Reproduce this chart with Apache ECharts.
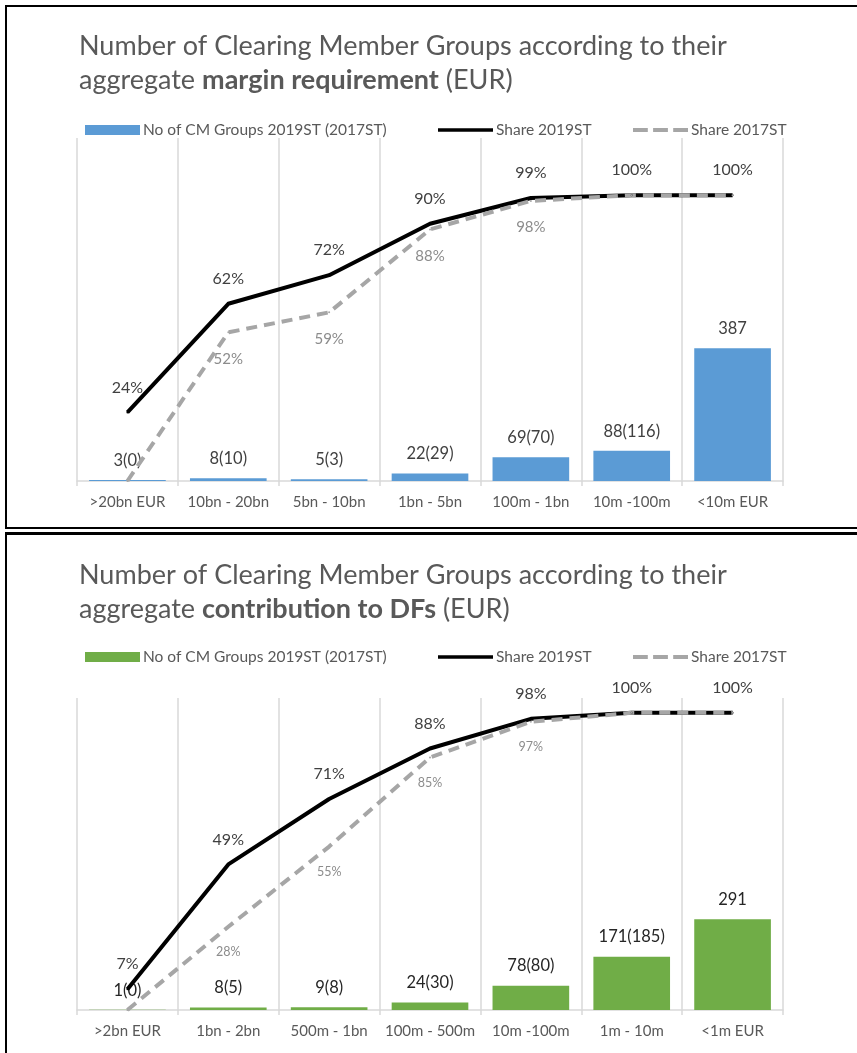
<!DOCTYPE html>
<html>
<head>
<meta charset="utf-8">
<script src="https://cdn.jsdelivr.net/npm/echarts@6/dist/echarts.min.js"></script>
<style>
  html, body { margin: 0; padding: 0; background: #fff; }
  .frame { position: absolute; box-sizing: border-box; border: 2px solid #000; pointer-events: none; }
  .chart { position: absolute; left: 0; width: 857px; }
</style>
</head>
<body>
<div id="margin_con" class="chart" style="top:0;height:531px;"></div>
<div id="df_con" class="chart" style="top:531px;height:522px;"></div>
<div class="frame" style="left:5px;top:5px;width:900px;height:524px;"></div>
<div class="frame" style="left:5px;top:532px;width:900px;height:600px;border-top-width:3px;"></div>

<script>
// margin requirement panel
const categoriesMargin = ['>20bn EUR', '10bn - 20bn', '5bn - 10bn', '1bn - 5bn', '100m - 1bn', '10m -100m', '<10m EUR'];
const groups2019Margin = [3, 8, 5, 22, 69, 88, 387];
const groups2017Margin = [0, 10, 3, 29, 70, 116, null];
const share2019Margin = [0.24, 0.62, 0.72, 0.90, 0.99, 1.00, 1.00];
const share2017Margin = [0.00, 0.52, 0.59, 0.88, 0.98, 1.00, 1.00];

// default fund contribution panel
const categoriesDF = ['>2bn EUR', '1bn - 2bn', '500m - 1bn', '100m - 500m', '10m -100m', '1m - 10m', '<1m EUR'];
const groups2019DF = [1, 8, 9, 24, 78, 171, 291];
const groups2017DF = [0, 5, 8, 30, 80, 185, null];
const share2019DF = [0.07, 0.49, 0.71, 0.88, 0.98, 1.00, 1.00];
const share2017DF = [0.00, 0.28, 0.55, 0.85, 0.97, 1.00, 1.00];

const FONT = 'Lato';
const gridColor = '#d9d9d9';

function pct(v) {
  return Math.round(v * 100) + '%';
}

function buildOption(cfg) {
  const legendNames = ['No of CM Groups 2019ST (2017ST)', 'Share 2019ST', 'Share 2017ST'];
  const legendIcons = [
    'rect',
    'path://M0,0H60V4H0Z',
    'path://M0,0H14V4H0Z M19,0H33V4H19Z M38,0H52V4H38Z'
  ];
  const legendLeft = [85, 438, 633];
  return {
    animation: false,
    title: {
      left: 79,
      top: cfg.titleTop,
      padding: 0,
      text: 'Number of Clearing Member Groups according to their\naggregate {b|' + cfg.boldText + '} (EUR)',
      textStyle: {
        fontFamily: FONT, fontSize: 27, fontWeight: 'normal', color: '#595959', lineHeight: 34,
        rich: {
          b: { fontFamily: FONT, fontSize: 27, fontWeight: 'bold', color: '#595959', lineHeight: 34 }
        }
      }
    },
    legend: legendNames.map((n, i) => ({
      left: legendLeft[i],
      top: cfg.legendTop,
      padding: 0,
      data: [{ name: n, icon: legendIcons[i] }],
      itemWidth: 55,
      itemHeight: 10,
      itemGap: 0,
      selectedMode: false,
      itemStyle: { borderWidth: 0 },
      textStyle: { fontFamily: FONT, fontSize: 15.5, color: '#595959', padding: [0, 0, 0, -2] }
    })),
    grid: { left: 77, top: cfg.gridTop, width: 706, height: cfg.gridHeight },
    xAxis: {
      type: 'category',
      data: cfg.categories,
      axisLine: { lineStyle: { color: gridColor, width: 1.5 } },
      axisTick: { show: true, interval: 0, length: 5, lineStyle: { color: gridColor, width: 1.5 } },
      splitLine: { show: true, interval: 0, lineStyle: { color: gridColor, width: 1.5 } },
      axisLabel: { interval: 0, fontFamily: FONT, fontSize: 15, color: '#595959', margin: 14 }
    },
    yAxis: [
      { type: 'value', min: 0, max: 1000, show: false },
      { type: 'value', min: 0, max: cfg.shareMax, show: false }
    ],
    series: [
      {
        name: legendNames[0],
        type: 'bar',
        data: cfg.groups2019,
        barWidth: '76%',
        itemStyle: { color: cfg.barColor },
        label: {
          show: true,
          position: 'top',
          distance: 11,
          fontFamily: FONT,
          fontSize: 16.5,
          color: cfg.barLabelColor,
          formatter: p => {
            const prev = cfg.groups2017[p.dataIndex];
            return prev == null ? String(p.value) : p.value + '(' + prev + ')';
          }
        }
      },
      {
        name: legendNames[1],
        type: 'line',
        yAxisIndex: 1,
        data: cfg.share2019,
        symbol: 'circle',
        symbolSize: 2,
        itemStyle: { color: '#000' },
        lineStyle: { color: '#000', width: 4, join: 'round' },
        label: {
          show: true,
          position: 'top',
          distance: 16,
          fontFamily: FONT,
          fontSize: 16,
          color: '#404040',
          formatter: p => pct(p.value)
        }
      },
      {
        name: legendNames[2],
        type: 'line',
        yAxisIndex: 1,
        data: cfg.share2017,
        symbol: 'circle',
        symbolSize: 2,
        itemStyle: { color: '#a6a6a6' },
        lineStyle: { color: '#a6a6a6', width: 4, type: [11, 7] },
        label: {
          show: true,
          position: 'bottom',
          distance: 18,
          fontFamily: FONT,
          fontSize: cfg.label2017Size,
          color: '#8c8c8c',
          formatter: p => (p.value === 0 || p.value === 1) ? '' : pct(p.value)
        }
      }
    ]
  };
}

const marginChart = echarts.init(document.getElementById('margin_con'));
marginChart.setOption(buildOption({
  titleTop: 29,
  legendTop: 122,
  gridTop: 138,
  gridHeight: 343,
  shareMax: 1.2,
  boldText: 'margin requirement',
  categories: categoriesMargin,
  groups2019: groups2019Margin,
  groups2017: groups2017Margin,
  share2019: share2019Margin,
  share2017: share2017Margin,
  barColor: '#5b9bd5',
  barLabelColor: '#404040',
  label2017Size: 15
}));

const dfChart = echarts.init(document.getElementById('df_con'));
dfChart.setOption(buildOption({
  titleTop: 27,
  legendTop: 118,
  gridTop: 167,
  gridHeight: 312,
  shareMax: 1.05,
  boldText: 'contribution to DFs',
  categories: categoriesDF,
  groups2019: groups2019DF,
  groups2017: groups2017DF,
  share2019: share2019DF,
  share2017: share2017DF,
  barColor: '#70ad47',
  barLabelColor: '#262626',
  label2017Size: 12.5
}));
</script>
</body>
</html>
